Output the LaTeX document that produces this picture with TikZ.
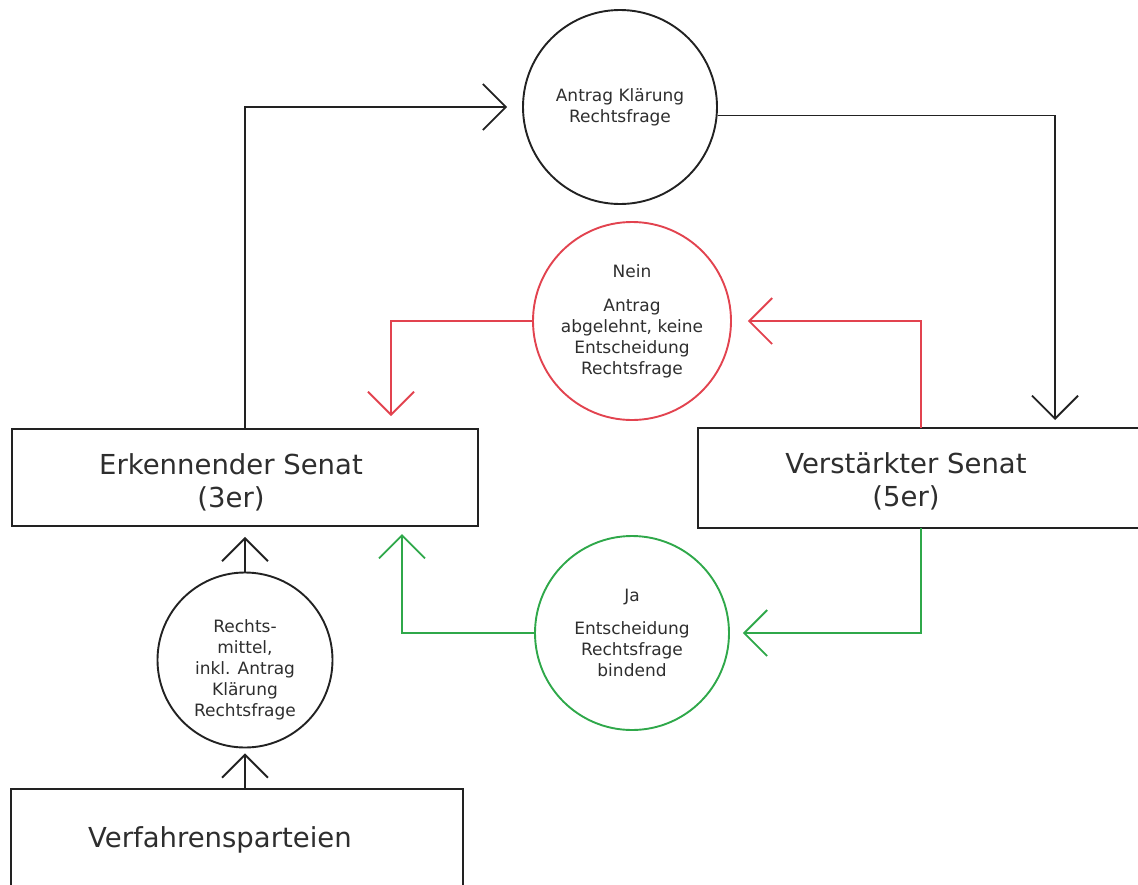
\documentclass[tikz,border=0pt]{standalone}
\usepackage{fontspec}
\setmainfont{DejaVu Sans}
\usetikzlibrary{arrows.meta}
\definecolor{ink}{HTML}{222222}
\definecolor{txt}{HTML}{2E2E2E}
\definecolor{nored}{HTML}{E2434F}
\definecolor{yesgreen}{HTML}{2FA84A}

\begin{document}
\begin{tikzpicture}[x=1pt,y=-1pt,
  box/.style={draw=ink, line width=1.9pt, rectangle, inner sep=0pt},
  bubble/.style={draw=ink, line width=1.9pt, circle, inner sep=0pt, align=center,
                 font=\fontsize{17}{21}\selectfont, text=txt},
  bigtext/.style={font=\fontsize{27.5}{33}\selectfont, text=txt, align=center},
  link/.style={draw=ink, line width=1.8pt,
               -{Straight Barb[length=23pt,width=46pt,line width=1.8pt]}},
  nolink/.style={link, draw=nored},
  yeslink/.style={link, draw=yesgreen},
]
\useasboundingbox (0,0) rectangle (1138,884);
\clip (0,0) rectangle (1138,884);

% senates and parties
\node[box, minimum width=466pt, minimum height=97pt] (ES) at (245,477.5) {};
\node[bigtext] (EStext) at (231,482) {Erkennender Senat\\(3er)};
\node[box, minimum width=472pt, minimum height=100pt] (VS) at (934,478) {};
\node[bigtext] (VStext) at (906,481) {Verstärkter Senat\\(5er)};
\node[box, minimum width=452pt, minimum height=111pt] (VP) at (237,844.5) {};
\node[bigtext] (VPtext) at (220,840) {Verfahrensparteien};

% decisions and requests
\node[bubble, minimum size=194pt] (C1) at (620,107) {Antrag Klärung\\Rechtsfrage};
\node[bubble, draw=nored, minimum size=198pt] (C2) at (632,321)
  {Nein\\[13pt]Antrag\\abgelehnt, keine\\Entscheidung\\Rechtsfrage};
\node[bubble, draw=yesgreen, minimum size=194pt] (C3) at (632,633)
  {Ja\\[12pt]Entscheidung\\Rechtsfrage\\bindend};
\node[bubble, minimum size=175pt] (C4) at (245,660)
  {\rule{0pt}{32pt}Rechts-\\mittel,\\inkl. Antrag\\Klärung\\Rechtsfrage};

% docking points on the senate boxes
\coordinate (vsIn) at (1055,428);
\coordinate (vsRed) at (921,428);
\coordinate (vsGreen) at (921,528);
\coordinate (esRed) at (391,429);
\coordinate (esGreen) at (402,526);

% flow
\draw[link, shorten >=15pt] (ES.north) |- (C1.west);
\draw[link, shorten >=8pt] (C1.-5) -| (vsIn);
\draw[nolink, shorten >=16pt] (vsRed) |- (C2.east);
\draw[nolink, shorten >=13pt] (C2.west) -| (esRed);
\draw[yeslink, shorten >=13pt] (vsGreen) |- (C3.east);
\draw[yeslink, shorten >=8pt] (C3.west) -| (esGreen);
\draw[link, shorten >=10pt] (C4.north) -- (ES.south);
\draw[link, shorten >=5pt] (VP.north -| C4.south) -- (C4.south);
\end{tikzpicture}
\end{document}
